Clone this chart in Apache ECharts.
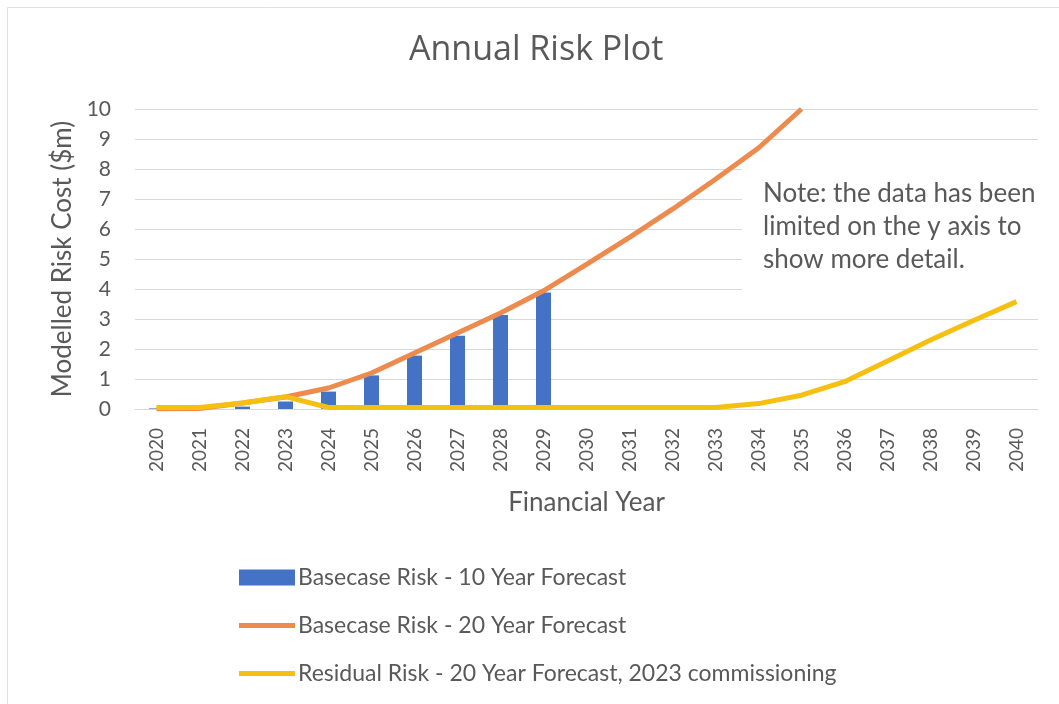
<!DOCTYPE html>
<html>
<head>
<meta charset="utf-8">
<title>Annual Risk Plot</title>
<script src="https://cdn.jsdelivr.net/npm/echarts@6/dist/echarts.min.js"></script>
<style>
  html, body { margin: 0; padding: 0; background: #ffffff; }
  #chart { width: 1059px; height: 704px; }
</style>
</head>
<body>
<div id="chart"></div>
<script>
// Financial years on the category axis
const years = ['2020','2021','2022','2023','2024','2025','2026','2027','2028','2029',
               '2030','2031','2032','2033','2034','2035','2036','2037','2038','2039','2040'];

// Basecase risk, 10 year forecast ($m)
const basecase10 = [0.02, 0.03, 0.08, 0.25, 0.58, 1.12, 1.78, 2.44, 3.13, 3.88];

// Basecase risk, 20 year forecast ($m) – the axis is capped at 10
const basecase20 = [0.0, 0.02, 0.2, 0.4, 0.7, 1.2, 1.87, 2.53, 3.2, 3.94,
                    4.82, 5.72, 6.66, 7.66, 8.7, 10.0];

// Residual risk, 20 year forecast with 2023 commissioning ($m)
const residual20 = [0.05, 0.05, 0.2, 0.41, 0.05, 0.05, 0.05, 0.05, 0.05, 0.05,
                    0.05, 0.05, 0.05, 0.05, 0.18, 0.46, 0.91, 1.6, 2.3, 2.95, 3.58];

const yTicks = { min: 0, max: 10, step: 1 };

const seriesNames = [
  'Basecase Risk - 10 Year Forecast',
  'Basecase Risk - 20 Year Forecast',
  'Residual Risk - 20 Year Forecast, 2023 commissioning'
];

const noteText = 'Note: the data has been\nlimited on the y axis to\nshow more detail.';

const FONT = 'Lato, "Open Sans", sans-serif';
const GREY = '#595959';

const chart = echarts.init(document.getElementById('chart'), null, { renderer: 'canvas' });

chart.setOption({
  backgroundColor: '#ffffff',
  animation: false,
  grid: { left: 135, right: 21, top: 109, bottom: 295, containLabel: false },
  xAxis: {
    type: 'category',
    data: years,
    boundaryGap: true,
    name: 'Financial Year',
    nameLocation: 'middle',
    nameGap: 81,
    nameTextStyle: { fontFamily: FONT, fontSize: 26, color: GREY },
    axisLine: { lineStyle: { color: '#d9d9d9', width: 1 } },
    axisTick: { show: false },
    axisLabel: {
      rotate: 90,
      margin: 19,
      fontFamily: FONT,
      fontSize: 19,
      color: GREY,
      interval: 0
    }
  },
  yAxis: {
    type: 'value',
    min: yTicks.min,
    max: yTicks.max,
    interval: yTicks.step,
    name: 'Modelled Risk Cost ($m)',
    nameLocation: 'middle',
    nameGap: 58,
    nameTextStyle: { fontFamily: FONT, fontSize: 26, color: GREY },
    axisLine: { show: false },
    axisTick: { show: false },
    axisLabel: { fontFamily: FONT, fontSize: 21, color: GREY, margin: 24 },
    splitLine: { lineStyle: { color: '#d9d9d9', width: 1 } }
  },
  legend: {
    orient: 'vertical',
    left: 239,
    top: 566,
    padding: 0,
    itemGap: 25,
    itemWidth: 56,
    itemHeight: 24,
    itemStyle: { borderWidth: 0 },
    textStyle: { fontFamily: FONT, fontSize: 23, color: GREY, padding: [0, 0, 0, -2] },
    data: [
      { name: seriesNames[0], icon: 'path://M0,4 L56,4 L56,20 L0,20 Z' },
      { name: seriesNames[1], icon: 'path://M0,9.5 L56,9.5 L56,14.5 L0,14.5 Z' },
      { name: seriesNames[2], icon: 'path://M0,9.5 L56,9.5 L56,14.5 L0,14.5 Z' }
    ]
  },
  graphic: [
    {
      type: 'rect',
      silent: true,
      shape: { x: 7.5, y: 7.5, width: 1200, height: 1200 },
      style: { fill: 'none', stroke: '#e0e0e0', lineWidth: 1 },
      z: 0
    },
    {
      type: 'text',
      silent: true,
      left: 409,
      top: 33,
      style: {
        text: 'Annual Risk Plot',
        fontFamily: '"Open Sans", sans-serif',
        fontSize: 34,
        fill: GREY
      },
      z: 5
    },
    {
      type: 'rect',
      silent: true,
      shape: { x: 742, y: 158, width: 310, height: 146 },
      style: { fill: '#ffffff' },
      z: 1
    },
    {
      type: 'text',
      silent: true,
      left: 763,
      top: 177,
      style: {
        text: noteText,
        fontFamily: FONT,
        fontSize: 26,
        lineHeight: 33,
        fill: GREY
      },
      z: 1
    }
  ],
  series: [
    {
      name: seriesNames[0],
      type: 'bar',
      data: basecase10,
      barWidth: 15,
      itemStyle: { color: '#4472c4' },
      z: 2
    },
    {
      name: seriesNames[1],
      type: 'line',
      data: basecase20,
      symbol: 'none',
      clip: true,
      lineStyle: { color: '#ed8b4f', width: 5 },
      itemStyle: { color: '#ed8b4f' },
      z: 3
    },
    {
      name: seriesNames[2],
      type: 'line',
      data: residual20,
      symbol: 'none',
      lineStyle: { color: '#f5c011', width: 5 },
      itemStyle: { color: '#f5c011' },
      z: 4
    }
  ]
});
</script>
</body>
</html>
